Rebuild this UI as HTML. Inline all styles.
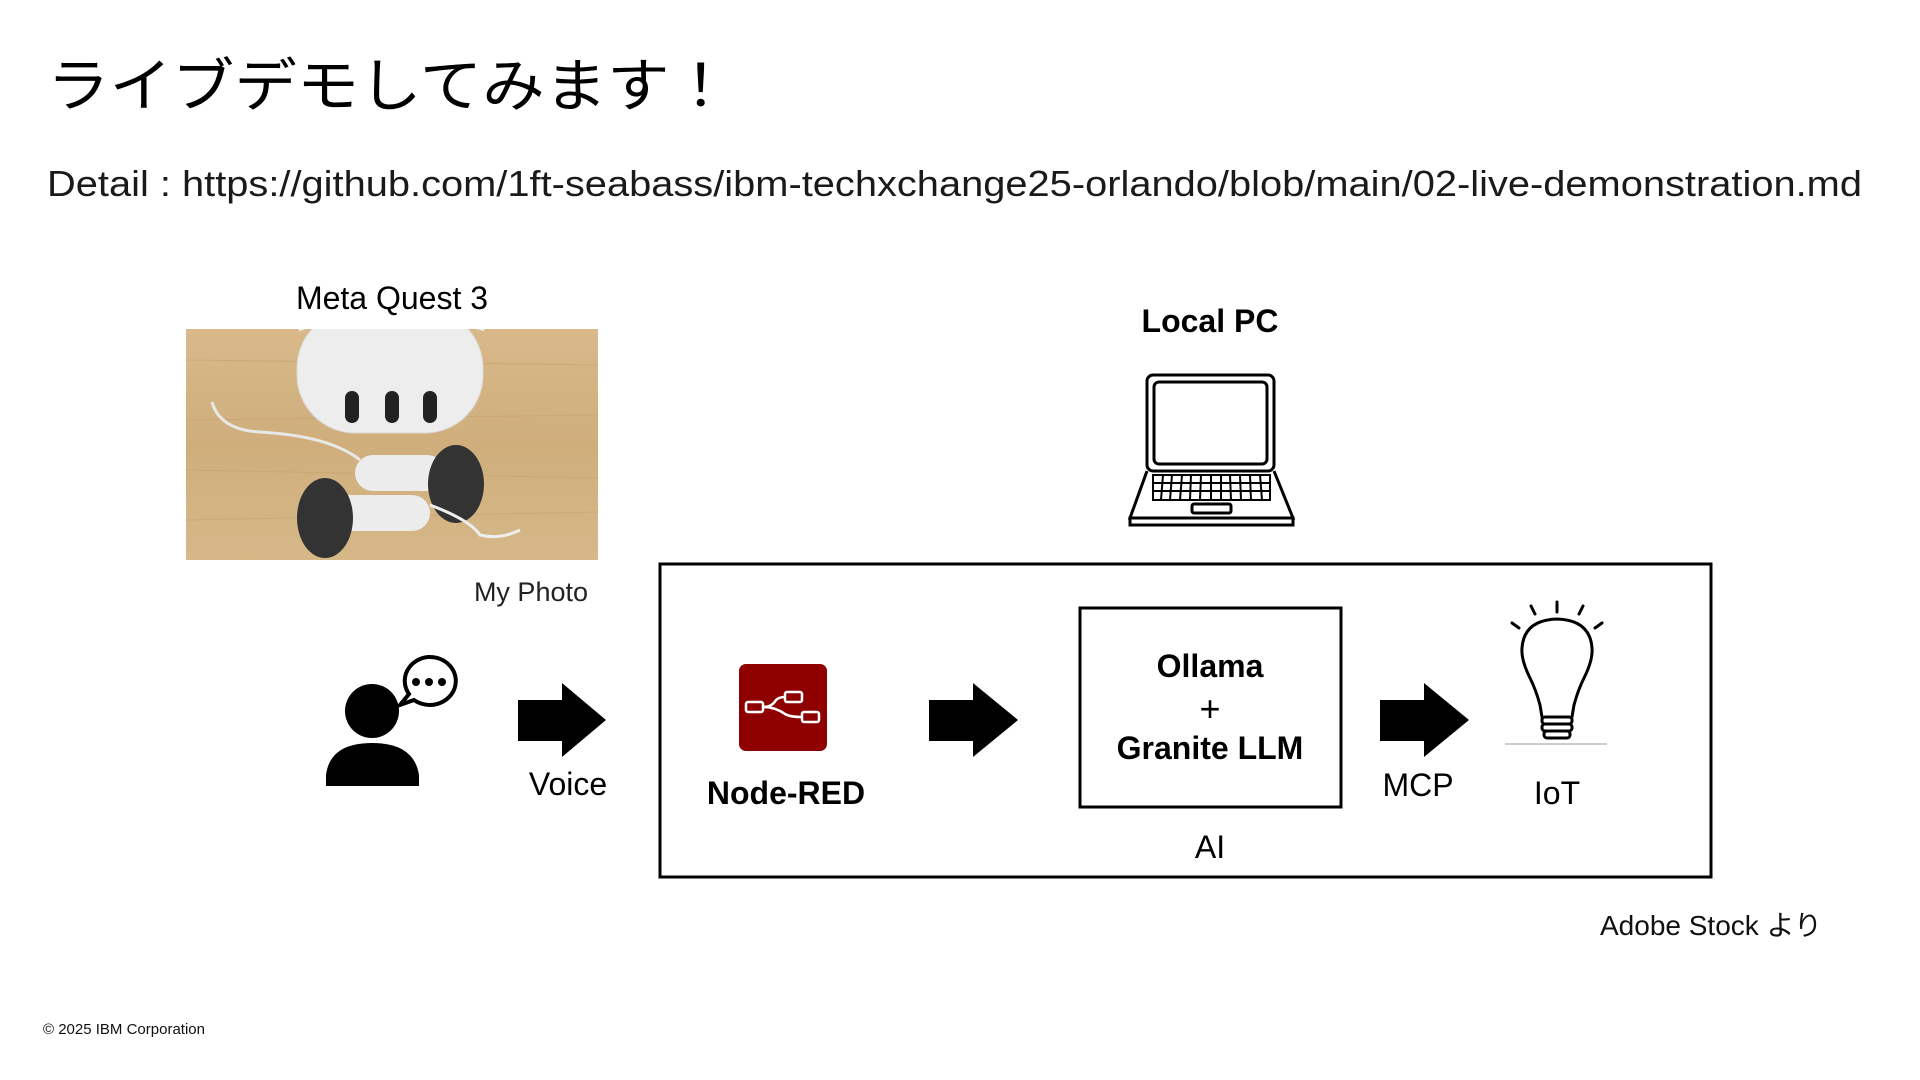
<!DOCTYPE html>
<html><head><meta charset="utf-8"><style>
html,body{margin:0;padding:0;background:#fff;}
svg{display:block;font-family:"Liberation Sans","Noto Sans CJK JP",sans-serif;}
</style></head><body>
<svg width="1920" height="1080" viewBox="0 0 1920 1080" xmlns="http://www.w3.org/2000/svg">
<defs>
<linearGradient id="wood" x1="0" y1="0" x2="0" y2="1">
<stop offset="0" stop-color="#d9b98a"/><stop offset="0.5" stop-color="#cfae7c"/><stop offset="1" stop-color="#d6b888"/>
</linearGradient>
<clipPath id="ph"><rect x="186" y="329" width="412" height="231"/></clipPath>
</defs>
<text x="47" y="106" font-size="58" fill="#000" textLength="685" lengthAdjust="spacingAndGlyphs">ライブデモしてみます！</text>
<text x="47" y="196" font-size="36" fill="#1a1a1a" textLength="1815" lengthAdjust="spacingAndGlyphs">Detail : https://github.com/1ft-seabass/ibm-techxchange25-orlando/blob/main/02-live-demonstration.md</text>

<text x="392" y="309" font-size="32" text-anchor="middle">Meta Quest 3</text>
<!-- photo -->
<g clip-path="url(#ph)">
<rect x="186" y="329" width="412" height="231" fill="url(#wood)"/>
<g stroke="#c4a070" stroke-width="1" opacity="0.6">
<line x1="186" y1="360" x2="598" y2="365"/><line x1="186" y1="420" x2="598" y2="415"/><line x1="186" y1="470" x2="598" y2="478"/><line x1="186" y1="520" x2="598" y2="512"/>
</g>
<path d="M303 330 L300 320 M480 330 L483 320" stroke="#eee" stroke-width="8"/>
<rect x="297" y="310" width="186" height="123" rx="58" fill="#ededed" stroke="#d8d8d8"/>
<rect x="345" y="391" width="14" height="32" rx="7" fill="#222"/>
<rect x="385" y="391" width="14" height="32" rx="7" fill="#222"/>
<rect x="423" y="391" width="14" height="32" rx="7" fill="#222"/>
<path d="M212 402 Q220 430 260 432 Q330 436 360 460" fill="none" stroke="#e8e8e8" stroke-width="3"/>
<rect x="355" y="455" width="90" height="36" rx="18" fill="#ececec"/>
<ellipse cx="456" cy="484" rx="28" ry="39" fill="#333"/>
<rect x="330" y="495" width="100" height="36" rx="18" fill="#ececec"/>
<ellipse cx="325" cy="518" rx="28" ry="40" fill="#333"/>
<path d="M430 505 Q470 520 480 535 Q500 540 520 530" fill="none" stroke="#eee" stroke-width="3"/>
</g>

<text x="588" y="601" font-size="27" text-anchor="end" fill="#222">My Photo</text>

<!-- person -->
<circle cx="372" cy="711" r="27" fill="#000"/>
<path d="M326 786 L326 775 Q330 743 372 743 Q414 743 419 775 L419 786 Z" fill="#000"/>
<path d="M428 657 a26 24 0 1 1 -14 43 l-14 5 l9 -11 a26 24 0 0 1 19 -37 z" fill="#fff" stroke="#000" stroke-width="4"/>
<circle cx="416" cy="682" r="4" fill="#000"/><circle cx="429" cy="682" r="4" fill="#000"/><circle cx="442" cy="682" r="4" fill="#000"/>

<!-- arrows -->
<path d="M518 700 H562 V683 L606 720 L562 757 V741 H518 Z" fill="#000"/>
<text x="568" y="795" font-size="32" text-anchor="middle">Voice</text>

<rect x="660" y="564" width="1051" height="313" fill="none" stroke="#000" stroke-width="3"/>

<text x="1210" y="332" font-size="32" font-weight="bold" text-anchor="middle">Local PC</text>
<!-- laptop -->
<g fill="none" stroke="#000" stroke-width="3">
<rect x="1147" y="375" width="127" height="96" rx="6"/>
<rect x="1154" y="382" width="113" height="82" rx="5"/>
<path d="M1147 471 L1130 518 H1293 L1274 471"/>
<rect x="1130" y="518" width="163" height="7"/>
<rect x="1192" y="504" width="39" height="9" rx="2"/>
</g>
<g stroke="#000" stroke-width="2">
<rect x="1153" y="475" width="117" height="25" fill="none"/>
<line x1="1153" y1="483" x2="1270" y2="483"/><line x1="1153" y1="491" x2="1270" y2="491"/>
<line x1="1163" y1="475" x2="1161" y2="500"/><line x1="1172" y1="475" x2="1170" y2="500"/><line x1="1182" y1="475" x2="1180" y2="500"/><line x1="1191" y1="475" x2="1190" y2="500"/><line x1="1201" y1="475" x2="1200" y2="500"/><line x1="1211" y1="475" x2="1211" y2="500"/><line x1="1221" y1="475" x2="1221" y2="500"/><line x1="1230" y1="475" x2="1231" y2="500"/><line x1="1240" y1="475" x2="1241" y2="500"/><line x1="1250" y1="475" x2="1251" y2="500"/><line x1="1260" y1="475" x2="1262" y2="500"/>
</g>

<!-- node-red -->
<rect x="739" y="664" width="88" height="87" rx="7" fill="#8f0000"/>
<g fill="none" stroke="#fff" stroke-width="2.5">
<rect x="746" y="702" width="17" height="10" rx="2"/>
<rect x="785" y="692" width="17" height="10" rx="2"/>
<rect x="802" y="712" width="17" height="10" rx="2"/>
<path d="M763 707 Q772 707 776 700 Q779 697 785 697"/>
<path d="M763 707 Q775 707 785 714 Q790 717 802 717"/>
</g>
<text x="786" y="804" font-size="32" font-weight="bold" text-anchor="middle">Node-RED</text>

<path d="M929 700 H973 V683 L1018 720 L973 757 V741 H929 Z" fill="#000"/>

<rect x="1080" y="608" width="261" height="199" fill="none" stroke="#000" stroke-width="3"/>
<text x="1210" y="677" font-size="32" font-weight="bold" text-anchor="middle">Ollama</text>
<text x="1210" y="721" font-size="36" text-anchor="middle">+</text>
<text x="1210" y="759" font-size="32" font-weight="bold" text-anchor="middle">Granite LLM</text>
<text x="1210" y="858" font-size="32" text-anchor="middle">AI</text>

<path d="M1380 700 H1424 V683 L1469 720 L1424 757 V741 H1380 Z" fill="#000"/>
<text x="1418" y="796" font-size="32" text-anchor="middle">MCP</text>

<!-- bulb -->
<g fill="none" stroke="#000" stroke-width="3" stroke-linecap="round">
<path d="M1542 717 L1540 705 Q1536 690 1530 678 Q1521 660 1522 648 Q1524 620 1557 619 Q1590 620 1592 648 Q1593 660 1584 678 Q1578 690 1574 705 L1572 717"/>
<rect x="1542" y="717" width="30" height="7" rx="3"/>
<rect x="1542" y="724" width="30" height="7" rx="3"/>
<rect x="1544" y="731" width="26" height="7" rx="3"/>
<line x1="1557" y1="602" x2="1557" y2="612"/>
<line x1="1531" y1="606" x2="1535" y2="614"/>
<line x1="1583" y1="606" x2="1579" y2="614"/>
<line x1="1512" y1="623" x2="1519" y2="628"/>
<line x1="1602" y1="623" x2="1595" y2="628"/>
</g>
<line x1="1505" y1="744" x2="1607" y2="744" stroke="#bbb" stroke-width="1.5"/>
<text x="1557" y="804" font-size="32" text-anchor="middle">IoT</text>

<text x="1711" y="935" font-size="28" text-anchor="middle" fill="#111">Adobe Stock より</text>
<text x="43" y="1034" font-size="15" fill="#111">© 2025 IBM Corporation</text>
</svg>
</body></html>
